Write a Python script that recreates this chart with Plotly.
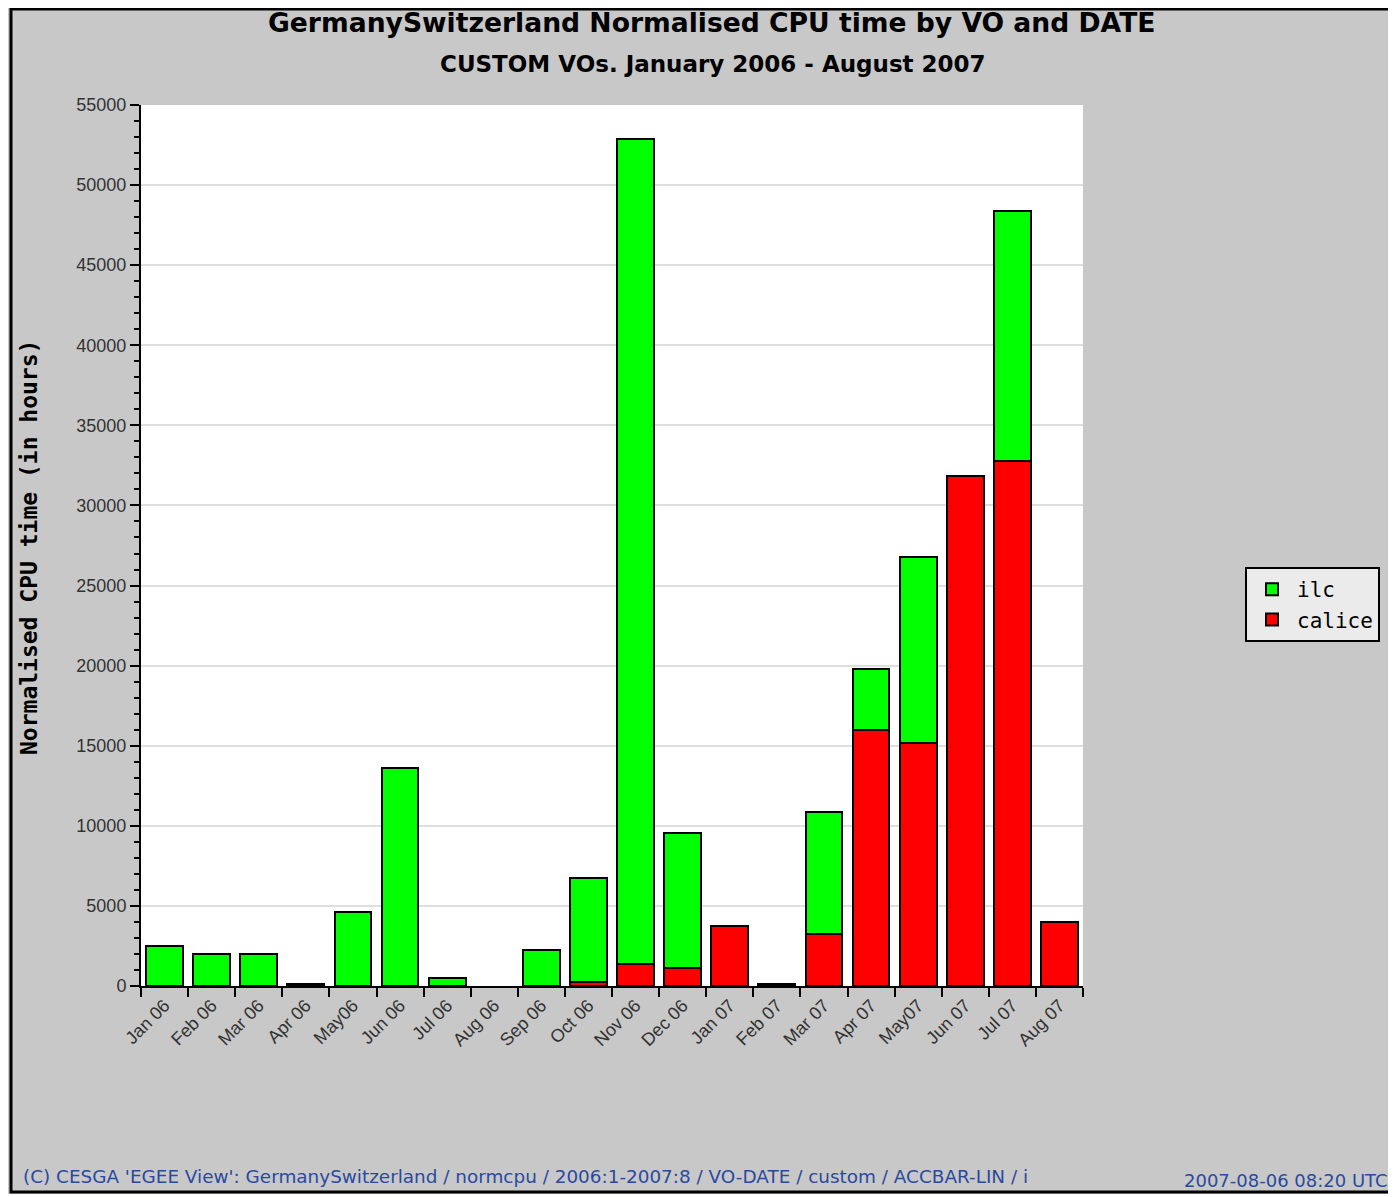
import plotly.graph_objects as go

months = ["Jan 06", "Feb 06", "Mar 06", "Apr 06", "May06", "Jun 06", "Jul 06", "Aug 06",
          "Sep 06", "Oct 06", "Nov 06", "Dec 06", "Jan 07", "Feb 07", "Mar 07", "Apr 07",
          "May07", "Jun 07", "Jul 07", "Aug 07"]
calice = [0, 0, 0, 0, 0, 0, 0, 0, 0, 250, 1370, 1120, 3750, 100, 3250, 15980, 15170, 31840, 32780, 4000]
ilc = [2500, 2000, 2000, 100, 4620, 13610, 500, 0, 2250, 6490, 51510, 8430, 0, 0, 7610, 3810, 11610, 0, 15600, 0]
y_ticks = [0, 5000, 10000, 15000, 20000, 25000, 30000, 35000, 40000, 45000, 50000, 55000]

OFF = 8  # page body margin
W, H = 1396 - OFF, 1194 - OFF
# plot area in page pixels
PL, PR, PT, PB = 141, 1083, 105, 986
L, R, T, B = PL - OFF, PR - OFF, PT - OFF, PB - OFF

def px(x):  # page pixel -> paper x
    return (x - PL) / (PR - PL)
def py(y):  # page pixel -> paper y
    return (PB - y) / (PB - PT)

def nz(v):
    return [None if a == 0 else a for a in v]

fig = go.Figure()
fig.add_trace(go.Bar(x=months, y=nz(calice), name="calice",
                     marker=dict(color="#ff0000", line=dict(color="black", width=2))))
fig.add_trace(go.Bar(x=months, y=nz(ilc), name="ilc",
                     marker=dict(color="#00ff00", line=dict(color="black", width=2))))

fig.update_layout(
    width=W, height=H,
    margin=dict(l=L, r=W - R, t=T, b=H - B, autoexpand=False),
    barmode="stack", bargap=0.22,
    paper_bgcolor="#c8c8c8", plot_bgcolor="white",
    showlegend=True,
    legend=dict(x=px(1245), y=py(567), xanchor="left", yanchor="top",
                traceorder="reversed", bgcolor="#ebebeb", bordercolor="black", borderwidth=2,
                itemwidth=40, tracegroupgap=4,
                font=dict(family="DejaVu Sans Mono", size=21, color="black")),
    font=dict(family="Liberation Sans", size=18, color="#333333"),
)
fig.update_xaxes(type="category", tickson="boundaries", ticks="outside", ticklen=9,
                 tickwidth=2, tickcolor="black", showline=True, linecolor="black", linewidth=2,
                 tickangle=-45, showgrid=False,
                 tickfont=dict(family="Liberation Sans", size=18, color="#333333"))
fig.update_yaxes(range=[0, 55000], tickvals=y_ticks, ticktext=[str(v) for v in y_ticks],
                 ticks="outside", ticklen=9, tickwidth=2, tickcolor="black",
                 showline=True, linecolor="black", linewidth=2,
                 showgrid=True, gridcolor="#dedede", gridwidth=2, zeroline=False,
                 minor=dict(dtick=1000, ticks="outside", ticklen=5, tickwidth=2, tickcolor="black", showgrid=False),
                 tickfont=dict(family="Liberation Sans", size=18, color="#333333"))

ann = [
    dict(text="<b>GermanySwitzerland Normalised CPU time by VO and DATE</b>", x=px(711), y=py(23),
         font=dict(family="DejaVu Sans", size=26.6, color="black")),
    dict(text="<b>CUSTOM VOs. January 2006 - August 2007</b>", x=px(713), y=py(64),
         font=dict(family="DejaVu Sans", size=23, color="black")),
    dict(text="<b>Normalised CPU time (in hours)</b>", x=px(29), y=py(548), textangle=-90,
         font=dict(family="DejaVu Sans Mono", size=23, color="black")),
    dict(text="(C) CESGA 'EGEE View': GermanySwitzerland / normcpu / 2006:1-2007:8 / VO-DATE / custom / ACCBAR-LIN / i",
         x=px(21), y=py(1176), xanchor="left",
         font=dict(family="DejaVu Sans", size=18.4, color="#2a4aa0")),
    dict(text="2007-08-06 08:20 UTC", x=px(1390), y=py(1180), xanchor="right",
         font=dict(family="DejaVu Sans", size=18, color="#2a4aa0")),
]
for a in ann:
    a.setdefault("xanchor", "center")
    fig.add_annotation(xref="paper", yref="paper", yanchor="middle", showarrow=False, **a)

fig.add_shape(type="rect", xref="paper", yref="paper",
              x0=px(11), x1=px(1420), y0=py(1192), y1=py(9),
              line=dict(color="black", width=3), fillcolor="rgba(0,0,0,0)", layer="above")

fig.write_html("out.html")
